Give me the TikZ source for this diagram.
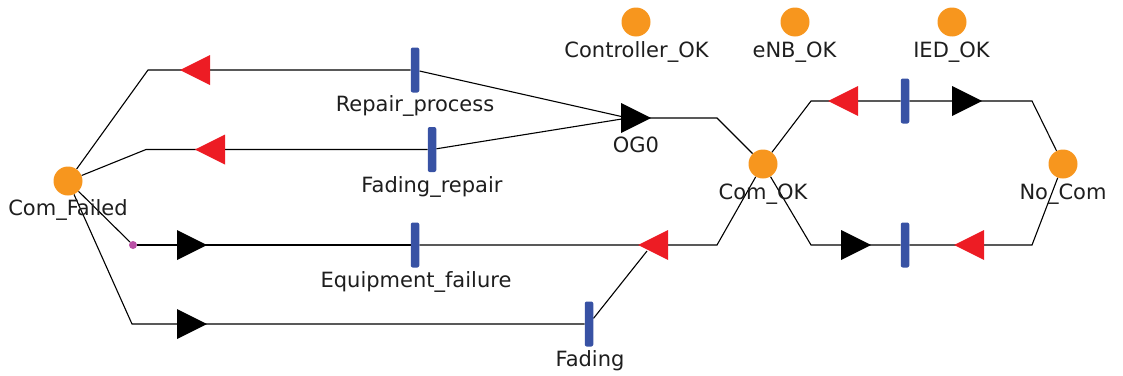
\documentclass[tikz,border=0pt]{standalone}
\usepackage{fontspec}
\setmainfont{DejaVu Sans}
\usetikzlibrary{backgrounds}
\definecolor{plorange}{RGB}{247,150,30}
\definecolor{plred}{RGB}{237,28,36}
\definecolor{plblue}{RGB}{56,82,164}
\definecolor{plpurple}{RGB}{185,80,165}
\definecolor{pltext}{RGB}{30,30,30}
\tikzset{
  place/.style={circle,fill=plorange,minimum size=29pt,inner sep=0pt},
  trans/.style={rectangle,fill=plblue,minimum width=8.5pt,minimum height=45pt,rounded corners=2pt,inner sep=0pt},
  lbl/.style={anchor=base,inner sep=0pt,text=pltext,font=\fontsize{21}{25}\selectfont},
  arc/.style={draw=black,line width=1.1pt},
  ltri/.pic={\fill (0,0) -- (30,-15) -- (30,15) -- cycle;},
  rtri/.pic={\fill (0,0) -- (-30,-15) -- (-30,15) -- cycle;}
}
\begin{document}
\begin{tikzpicture}[x=1pt,y=-1pt]
\useasboundingbox (0,0) rectangle (1123,375);
% places
\node[place] (cf) at (68,181) {};
\node[place] (cok) at (763,164) {};
\node[place] (nc) at (1063,164) {};
\node[place] (ctl) at (636,22) {};
\node[place] (enb) at (795,22) {};
\node[place] (ied) at (952,22) {};
\node[circle,fill=plpurple,minimum size=8pt,inner sep=0pt] (dot) at (133,245) {};
% transitions
\node[trans] (t1) at (415,70) {};
\node[trans] (t2) at (432,149.5) {};
\node[trans] (t3) at (415,245) {};
\node[trans] (t4) at (589,324) {};
\node[trans] (t5) at (905,101) {};
\node[trans] (t6) at (905,245) {};
\coordinate (og0) at (628,118);
\coordinate (eqtip) at (647,251);
% labels
\node[lbl] (lcf) at (68,215) {Com\_Failed};
\node[lbl] (lcok) at (763,199) {Com\_OK};
\node[lbl] (lnc) at (1063,199) {No\_Com};
\node[lbl] (lctl) at (636.5,57) {Controller\_OK};
\node[lbl] (lenb) at (794.5,57) {eNB\_OK};
\node[lbl] (lied) at (951.5,57) {IED\_OK};
\node[lbl] (lt1) at (415,111) {Repair\_process};
\node[lbl] (lt2) at (432,192) {Fading\_repair};
\node[lbl] (lt3) at (416,287) {Equipment\_failure};
\node[lbl] (lt4) at (590,366) {Fading};
\node[lbl] (log) at (636,152) {OG0};
% arcs
\begin{scope}[on background layer]
\draw[arc] (cf) -- (148,70) -- (t1);
\draw[arc] (t1) -- (og0);
\draw[arc] (cf) -- (146,149.5) -- (t2);
\draw[arc] (t2) -- (og0);
\draw[arc] (og0) -- (717,118) -- (cok);
\draw[arc] (cf) -- (dot);
\draw[arc] (dot) -- (t3);
\draw[arc] (t3) -- (717,245) -- (cok);
\draw[arc] (cf) -- (132,324) -- (t4);
\draw[arc] (t4) -- (eqtip);
\draw[arc] (cok) -- (811,101) -- (t5);
\draw[arc] (t5) -- (1032,101) -- (nc);
\draw[arc] (cok) -- (811,245) -- (t6);
\draw[arc] (t6) -- (1032,245) -- (nc);
\end{scope}
% arrow marks
\pic[plred] at (180,70) {ltri};
\pic[plred] at (195,149.5) {ltri};
\pic[black] at (207,245) {rtri};
\pic[black] at (207,324) {rtri};
\pic[black] at (651,118) {rtri};
\pic[plred] at (638,245) {ltri};
\pic[plred] at (828,101) {ltri};
\pic[black] at (982,101) {rtri};
\pic[black] at (871,245) {rtri};
\pic[plred] at (954,245) {ltri};
\end{tikzpicture}
\end{document}
